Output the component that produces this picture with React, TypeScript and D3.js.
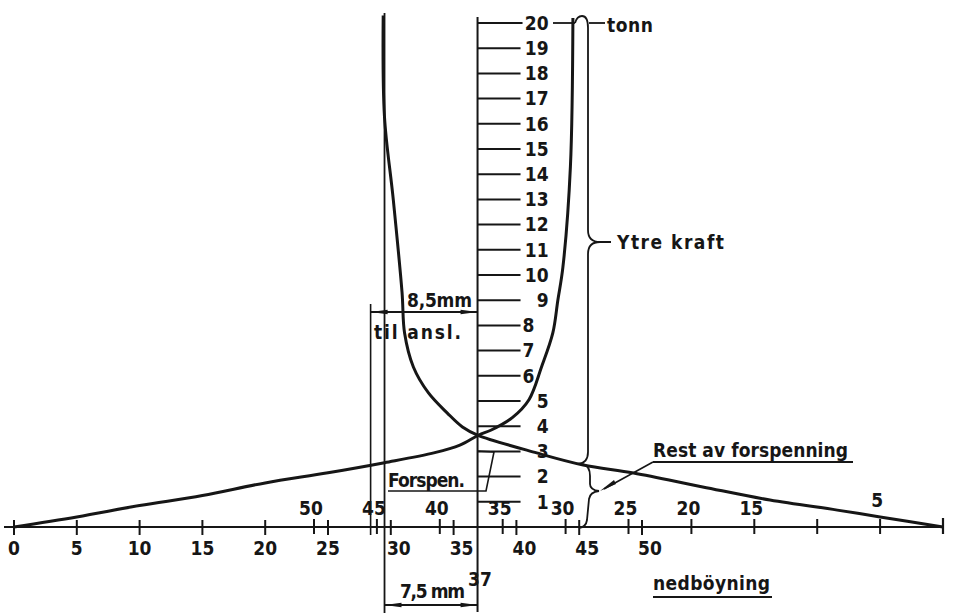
import React from 'react';
import * as d3 from 'd3';

const W = 959;
const H = 616;

// bolt curve: deflection on lower scale (mm) vs force (tonn)
const boltDefl = [0, 5, 10, 15, 20, 25, 29.5, 33.5, 35.5, 37, 38, 39.7, 41, 42, 42.9, 43.3, 43.7, 44.3, 44.5];
const boltForce = [0, 0.4, 0.85, 1.25, 1.75, 2.15, 2.55, 2.95, 3.25, 3.65, 3.85, 4.35, 5.05, 6.35, 7.7, 9, 10.3, 14.3, 20.2];

// clamped parts curve: deflection on upper (reversed) scale vs force
const jointDefl = [0, 5, 8.4, 13.75, 19.1, 24.6, 28.6, 32.3, 37, 38.2, 39.4, 40.9, 42.1, 42.8, 43.0, 43.7, 44.4, 44.5];
const jointForce = [0, 0.4, 0.67, 1.07, 1.59, 2.14, 2.46, 2.94, 3.65, 3.97, 4.52, 5.32, 6.35, 7.7, 9.3, 13, 16.3, 20.3];

const lowerTicks = [0, 5, 10, 15, 20, 25, 30, 35, 40, 45, 50];
const upperTicks = [5, 10, 15, 20, 25, 30, 35, 40, 45, 50];
const upperLabels = [5, 15, 20, 25, 30, 35, 40, 45, 50];
const forceTicks = d3.range(1, 21);
const forceLeftLabels = [6, 7, 8]; // squeezed in beside the curve

const crossing = 37; // mm
const preloadDim = 7.5; // "7,5 mm"
const contactDim = 8.5; // "8,5mm til ansl."

const FONT = "'DejaVu Sans Condensed', 'Liberation Sans Narrow', 'DejaVu Sans', sans-serif";
const INK = '#161616';

const xLow = d3.scaleLinear().domain([0, 50]).range([14, 642]);
const xUp = d3.scaleLinear().domain([0, 50]).range([943, 314]);
const yF = d3.scaleLinear().domain([0, 20]).range([527, 23]);

const arrow = (x: number, y: number, dir: number) =>
  `M${x},${y} L${x - dir * 17},${y - 2.2} L${x - dir * 17},${y + 2.2} Z`;

export default function App() {
  const line = d3.line<[number, number]>().curve(d3.curveCatmullRom.alpha(0.5));
  const boltPath = line(boltDefl.map((d, i) => [xLow(d), yF(boltForce[i])]));
  const jointPath = line(jointDefl.map((d, i) => [xUp(d), yF(jointForce[i])]));

  const y0 = yF(0);
  const xc = xUp(crossing);
  const xContact = xUp(crossing + contactDim);
  const xPre = xLow(crossing - preloadDim);
  const txt = { fontFamily: FONT, fontWeight: 700, fontSize: 19, fill: INK, fontStretch: 'condensed' as const };

  return (
    <svg width={W} height={H} style={{ position: 'absolute', left: 0, top: 0, background: '#fff' }}>
      {/* deflection axis */}
      <line x1={4} x2={xUp(0)} y1={y0} y2={y0} stroke={INK} strokeWidth={2} />
      <line x1={xUp(0)} x2={xUp(0)} y1={y0 - 9} y2={y0 + 7} stroke={INK} strokeWidth={2.2} />
      {lowerTicks.map(t => (
        <g key={'l' + t}>
          <line x1={xLow(t)} x2={xLow(t)} y1={y0 - 7} y2={y0 + 8} stroke={INK} strokeWidth={2} />
          <text x={xLow(t) + (t >= 30 ? 8 : 0)} y={555} textAnchor="middle" style={txt}>{t}</text>
        </g>
      ))}
      {upperTicks.map(t => (
        <line key={'u' + t} x1={xUp(t)} x2={xUp(t)} y1={y0 - 8} y2={y0 + 7} stroke={INK} strokeWidth={2} />
      ))}
      {upperLabels.map(t => (
        <text key={'ul' + t} x={xUp(t) - 3} y={t === 5 ? 507 : 515} textAnchor="middle" style={txt}>{t}</text>
      ))}

      {/* force axis */}
      <line x1={xc} x2={xc} y1={17} y2={612} stroke={INK} strokeWidth={2} />
      {forceTicks.map(t => (
        <g key={'f' + t}>
          <line x1={xc} x2={xc + (t === 20 ? 45 : 43)} y1={yF(t)} y2={yF(t)} stroke={INK} strokeWidth={2} />
          {forceLeftLabels.includes(t) ? (
            <text x={xc + 45} y={yF(t)} dy="0.36em" style={txt}>{t}</text>
          ) : (
            <text x={xc + 71} y={yF(t)} dy="0.36em" textAnchor="end" style={txt}>{t}</text>
          )}
        </g>
      ))}

      {/* extension lines */}
      <line x1={xContact} x2={xContact} y1={304} y2={535} stroke={INK} strokeWidth={1.6} />
      <line x1={xPre} x2={xPre} y1={13} y2={613} stroke={INK} strokeWidth={1.8} />

      {/* curves */}
      <path d={boltPath ?? ''} fill="none" stroke={INK} strokeWidth={3} strokeLinejoin="round" />
      <path d={jointPath ?? ''} fill="none" stroke={INK} strokeWidth={3} strokeLinejoin="round" />

      {/* 8,5 mm dimension */}
      <line x1={xContact} x2={xc} y1={312} y2={312} stroke={INK} strokeWidth={1.8} />
      <path d={arrow(xContact, 312, -1)} fill={INK} />
      <path d={arrow(xc, 312, 1)} fill={INK} />
      <text x={407} y={307} textLength={65} style={txt}>8,5mm</text>
      <text x={374} y={339} textLength={87} style={txt}>til ansl.</text>

      {/* 7,5 mm dimension */}
      <line x1={xPre} x2={xc} y1={605} y2={605} stroke={INK} strokeWidth={1.8} />
      <path d={arrow(xPre, 605, -1)} fill={INK} />
      <path d={arrow(xc, 605, 1)} fill={INK} />
      <text x={400} y={598} textLength={65} style={txt}>7,5 mm</text>
      <text x={468} y={586} style={txt}>37</text>

      {/* Forspen. bracket */}
      <path d={`M388,491 L486,491 L494,452 L${xc},451`} fill="none" stroke={INK} strokeWidth={1.6} />
      <text x={388} y={487} textLength={77} style={txt}>Forspen.</text>

      {/* tonn + Ytre kraft brace */}
      <line x1={553} x2={575} y1={yF(20)} y2={yF(20)} stroke={INK} strokeWidth={1.8} />
      <line x1={589} x2={605} y1={yF(20)} y2={yF(20)} stroke={INK} strokeWidth={1.8} />
      <path
        d="M575,23 Q577,16 582,16 Q588,16 588,28 L588,230 Q588,242 600,242 L611,242 M600,242 Q588,242 588,254 L588,452 Q588,463 578,464"
        fill="none" stroke={INK} strokeWidth={1.8} />
      <text x={607} y={32} textLength={46} style={txt}>tonn</text>
      <text x={617} y={249} textLength={107} style={txt}>Ytre kraft</text>

      {/* Rest av forspenning brace */}
      <path
        d="M583,464 Q590,466 590,476 L590,484 Q590,490 599,491 Q590,492 589,499 L587,520 Q586,527 579,528"
        fill="none" stroke={INK} strokeWidth={1.8} />
      <line x1={653} x2={604} y1={462} y2={489} stroke={INK} strokeWidth={1.6} />
      <path d="M600,491 L614,480 L616,484 Z" fill={INK} />
      <text x={653} y={457} textLength={195} style={txt}>Rest av forspenning</text>
      <line x1={653} x2={853} y1={462} y2={462} stroke={INK} strokeWidth={1.8} />

      {/* nedböyning */}
      <text x={653} y={590} textLength={117} style={txt}>nedböyning</text>
      <line x1={653} x2={772} y1={597} y2={597} stroke={INK} strokeWidth={1.8} />
    </svg>
  );
}
